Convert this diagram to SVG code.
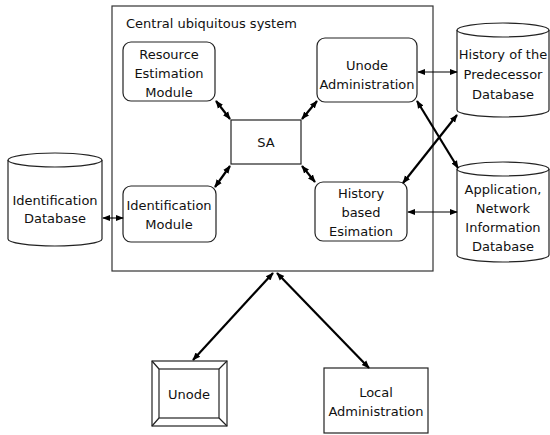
<svg xmlns="http://www.w3.org/2000/svg" width="550" height="435" viewBox="0 0 550 435">
<style>
text{font-family:"DejaVu Sans","Liberation Sans",sans-serif;font-size:13px;fill:#111;text-anchor:middle}
.box{fill:#fff;stroke:#222;stroke-width:1.2}
.main{fill:#fff;stroke:#333;stroke-width:1.2}
.thick{stroke:#000;stroke-width:2.2;fill:none;marker-start:url(#a);marker-end:url(#a)}
.thin{stroke:#000;stroke-width:1.1;fill:none;marker-start:url(#a);marker-end:url(#a)}
</style>
<defs>
<marker id="a" viewBox="0 0 10 10" refX="9" refY="5" markerWidth="8" markerHeight="8" markerUnits="userSpaceOnUse" orient="auto-start-reverse">
<path d="M0,1 L10,5 L0,9 Z" fill="#000"/>
</marker>
</defs>
<rect width="550" height="435" fill="#fff"/>
<g id="central">
<rect class="main" x="112" y="6" width="321" height="265"/>
<text x="126" y="28" style="text-anchor:start">Central ubiquitous system</text>
</g>
<g id="resource">
<rect class="box" x="123" y="42" width="92" height="59" rx="8"/>
<text x="169" y="59">Resource</text>
<text x="169" y="78">Estimation</text>
<text x="169" y="97">Module</text>
</g>
<g id="unodeadmin">
<rect class="box" x="317" y="38" width="100" height="64" rx="8"/>
<text x="367" y="70">Unode</text>
<text x="367" y="89">Administration</text>
</g>
<g id="sa">
<rect class="box" x="231" y="120" width="70" height="44"/>
<text x="266" y="147">SA</text>
</g>
<g id="idmodule">
<rect class="box" x="123" y="186" width="93" height="56" rx="8"/>
<text x="169" y="210">Identification</text>
<text x="169" y="229">Module</text>
</g>
<g id="history">
<rect class="box" x="315" y="182" width="92" height="59" rx="8"/>
<text x="361" y="198">History</text>
<text x="361" y="217">based</text>
<text x="361" y="236">Esimation</text>
</g>
<g id="iddb">
<path class="box" d="M8,160 A47,7 0 0,1 102,160 V239 A47,7 0 0,1 8,239 Z"/>
<path class="box" fill="none" d="M8,160 A47,7 0 0,0 102,160"/>
<text x="55" y="205">Identification</text>
<text x="55" y="223">Database</text>
</g>
<g id="preddb">
<path class="box" d="M457,30 A46,7 0 0,1 549,30 V110 A46,7 0 0,1 457,110 Z"/>
<path class="box" fill="none" d="M457,30 A46,7 0 0,0 549,30"/>
<text x="503" y="59">History of the</text>
<text x="503" y="79">Predecessor</text>
<text x="503" y="99">Database</text>
</g>
<g id="appdb">
<path class="box" d="M457,169 A46,7 0 0,1 549,169 V255 A46,7 0 0,1 457,255 Z"/>
<path class="box" fill="none" d="M457,169 A46,7 0 0,0 549,169"/>
<text x="503" y="194">Application,</text>
<text x="503" y="213">Network</text>
<text x="503" y="232">Information</text>
<text x="503" y="251">Database</text>
</g>
<g id="unode">
<rect class="box" x="152" y="361" width="75" height="65"/>
<rect class="box" x="159" y="369" width="60" height="49"/>
<path d="M152,361 L159,369 M227,361 L219,369 M152,426 L159,418 M227,426 L219,418" stroke="#222" stroke-width="1.2"/>
<text x="189" y="399">Unode</text>
</g>
<g id="localadmin">
<rect class="box" x="324" y="368" width="104" height="65"/>
<text x="376" y="397">Local</text>
<text x="376" y="416">Administration</text>
</g>
<g id="connectors">
<line class="thick" x1="216" y1="101" x2="230" y2="119"/>
<line class="thick" x1="317" y1="101" x2="302" y2="119"/>
<line class="thick" x1="215" y1="187" x2="230" y2="166"/>
<line class="thick" x1="302" y1="166" x2="315" y2="182"/>
<line class="thick" x1="417" y1="101" x2="458" y2="168"/>
<line class="thick" x1="403" y1="183" x2="457" y2="115"/>
<line class="thick" x1="193" y1="360" x2="273" y2="273"/>
<line class="thick" x1="369" y1="368" x2="277" y2="273"/>
<line class="thin" x1="103" y1="218" x2="123" y2="218"/>
<line class="thin" x1="418" y1="72" x2="457" y2="72"/>
<line class="thin" x1="408" y1="212" x2="457" y2="212"/>
</g>
</svg>
